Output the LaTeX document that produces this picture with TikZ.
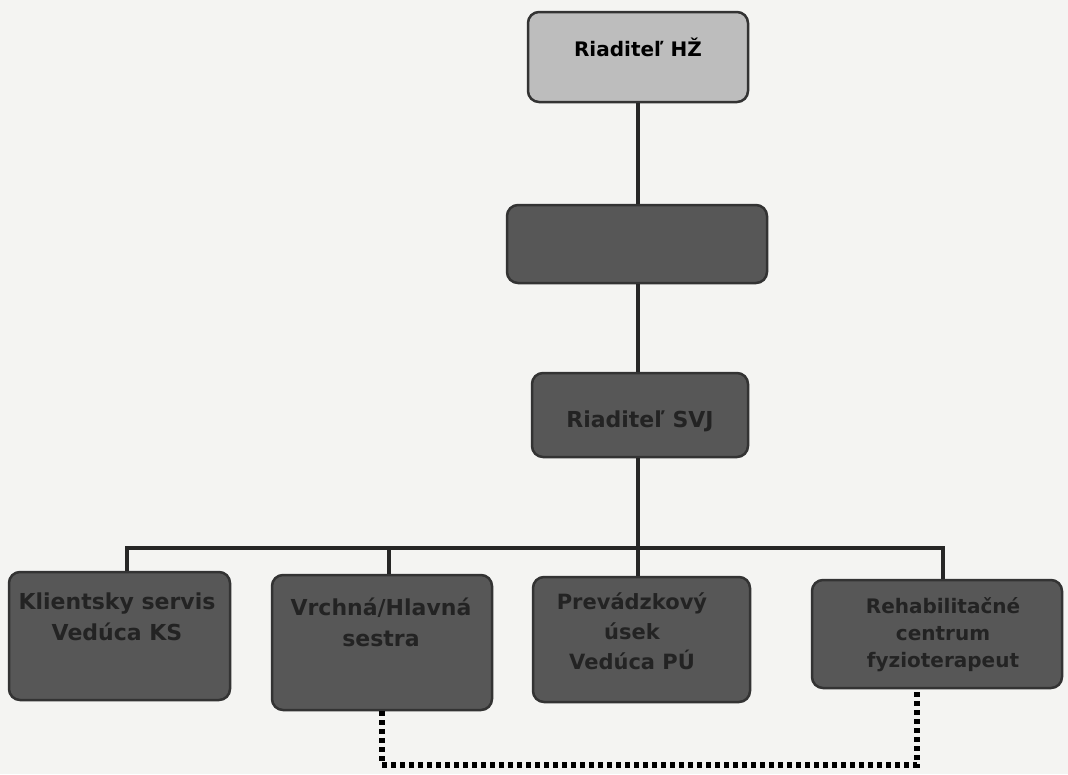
\documentclass[tikz,border=0pt]{standalone}
\usepackage{fontspec}
\setmainfont{DejaVu Sans}
\definecolor{bgc}{HTML}{F4F4F2}
\definecolor{lightbox}{HTML}{BDBDBD}
\definecolor{darkbox}{HTML}{575757}
\definecolor{edgec}{HTML}{333333}
\definecolor{darktext}{HTML}{232323}
\tikzset{
  box/.style={draw=edgec, line width=2.5pt, rounded corners=11pt, inner sep=0pt},
  lightnode/.style={box, fill=lightbox},
  darknode/.style={box, fill=darkbox},
  lighttext/.style={inner sep=0pt, align=center, text=black, font=\fontsize{20}{24}\selectfont\bfseries},
  darktxt/.style={inner sep=0pt, align=center, text=darktext, font=\fontsize{22}{31}\selectfont\bfseries},
  link/.style={draw=black!85, line width=4.5pt},
  dotlink/.style={draw=black, line width=5.5pt, dash pattern=on 5pt off 4pt}
}
\begin{document}
\begin{tikzpicture}[x=1pt,y=-1pt]
\fill[bgc] (0,0) rectangle (1068,774);
\useasboundingbox (0,0) rectangle (1068,774);

\node[lightnode, minimum width=220pt, minimum height=90pt] (top) at (638,57) {};
\node[darknode, minimum width=260pt, minimum height=78pt] (mid) at (637,244) {};
\node[darknode, minimum width=216pt, minimum height=84pt] (svj) at (640,415) {};
\node[darknode, minimum width=221pt, minimum height=128pt] (b1) at (119.5,636) {};
\node[darknode, minimum width=220pt, minimum height=135pt] (b2) at (382,642.5) {};
\node[darknode, minimum width=217pt, minimum height=125pt] (b3) at (641.5,639.5) {};
\node[darknode, minimum width=250pt, minimum height=108pt] (b4) at (937,634) {};

\node[lighttext] (ttop) at (638,47) {Riaditeľ HŽ};
\node[darktxt] (tsvj) at (640,421) {Riaditeľ SVJ};
\node[darktxt] (t1) at (117,617) {Klientsky servis\\Vedúca KS};
\node[darktxt] (t2) at (381,622) {Vrchná/Hlavná\\sestra};
\node[darktxt, font=\fontsize{21}{30}\selectfont\bfseries] (t3) at (632,631) {Prevádzkový\\úsek\\Vedúca PÚ};
\node[darktxt, font=\fontsize{20}{27}\selectfont\bfseries] (t4) at (943,635) {Rehabilitačné\\centrum\\fyzioterapeut};

\coordinate (trunk) at (638,548);
\coordinate (d1) at (127,548);
\coordinate (d2) at (389,548);
\coordinate (d4) at (943,548);
\coordinate (dl) at (382,765);
\coordinate (dr) at (917,765);

\draw[link] (top.south) -- (top.south |- mid.north);
\draw[link] (top.south |- mid.south) -- (top.south |- svj.north);
\draw[link] (top.south |- svj.south) -- (trunk);
\draw[link, line cap=rect] (d1) -- (d4);
\draw[link] (d1) -- (d1 |- b1.north);
\draw[link] (d2) -- (d2 |- b2.north);
\draw[link] (trunk) -- (trunk |- b3.north);
\draw[link] (d4) -- (d4 |- b4.north);

\draw[dotlink] (dl |- b2.south) -- (dl) -- (dr) -- (dr |- b4.south);
\end{tikzpicture}
\end{document}
